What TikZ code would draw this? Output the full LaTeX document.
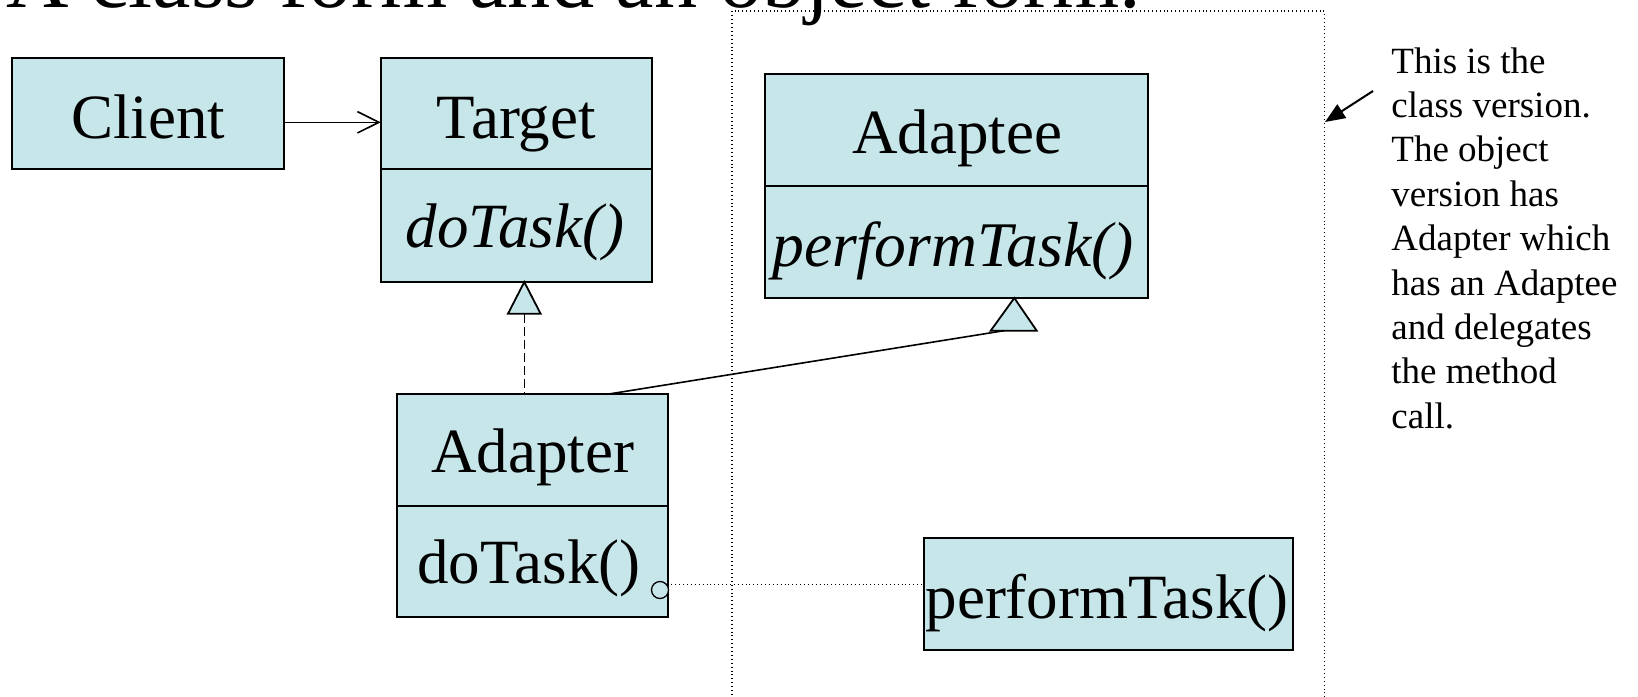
\documentclass[tikz,border=0pt]{standalone}
\usepackage{fontspec}
\setmainfont{Liberation Serif}
\usetikzlibrary{arrows.meta}
\definecolor{boxfill}{RGB}{199,230,233}
\begin{document}
\begin{tikzpicture}[x=0.5pt,y=-0.5pt,
  box/.style={rectangle, draw=black, line width=0.9pt, fill=boxfill, inner sep=0pt, outer sep=0pt},
  lbl/.style={inner sep=0pt, anchor=base, font=\fontsize{31.5}{36}\selectfont},
  lblit/.style={lbl, font=\fontsize{31.5}{36}\selectfont\itshape},
  tri/.style={draw=black, line width=0.9pt, fill=boxfill, line join=miter},
  conn/.style={draw=black, line width=0.8pt},
  dashline/.style={draw=black, line width=0.6pt, dash pattern=on 4.5pt off 2pt},
  dotline/.style={draw=black, line width=0.55pt, dash pattern=on 0.5pt off 1.45pt},
  notetext/.style={inner sep=0pt, align=left, font=\fontsize{18.5}{22.2}\selectfont}
]
\useasboundingbox (0,0) rectangle (1638,696);
\clip (0,0) rectangle (1638,696);

% dotted frame (class version)
\node[dotline, rectangle, inner sep=0pt, minimum width=296.25pt, minimum height=374.5pt] (frame) at (1028.25,385.5) {};

% title (cut off at top)
\node[inner sep=0pt, anchor=base west, font=\fontsize{43.2}{50}\selectfont] (title) at (6,8) {A class form and an object form.};

% boxes
\node[box, minimum width=136.3pt, minimum height=55.35pt] (clientBox) at (148,113.65) {};
\node[box, minimum width=135.65pt, minimum height=55.35pt] (targetTop) at (516.35,113.65) {};
\node[box, minimum width=135.65pt, minimum height=56.5pt] (targetBot) at (516.35,225.5) {};
\node[box, minimum width=191.65pt, minimum height=55.9pt] (adapteeTop) at (956.35,130.1) {};
\node[box, minimum width=191.65pt, minimum height=55.85pt] (adapteeBot) at (956.35,241.85) {};
\node[box, minimum width=135.8pt, minimum height=55.85pt] (adapterTop) at (532.5,450.15) {};
\node[box, minimum width=135.8pt, minimum height=55.65pt] (adapterBot) at (532.5,561.65) {};
\node[box, minimum width=184.35pt, minimum height=55.85pt] (taskBox) at (1108.35,594.15) {};

% labels
\node[lbl] (clientT) at (148,138) {Client};
\node[lbl] (targetT) at (516.35,138) {Target};
\node[lblit] (targetOp) at (515,247.5) {doTask()};
\node[lbl] (adapteeT) at (957,153.6) {Adaptee};
\node[lblit, font=\fontsize{31.8}{36}\selectfont\itshape] (adapteeOp) at (953,266.4) {performTask()};
\node[lbl, anchor=base west] (adapterOp) at (417,583.3) {doTask()};
\node[lbl] (adapterT) at (532.8,472) {Adapter};
\node[lbl] (taskT) at (1107,618.3) {performTask()};

% Client -> Target association
\draw[conn, -{Straight Barb[length=10.75pt,width=10.7pt]}] (clientBox.east |- 0,122.3) -- (targetTop.west |- 0,122.3);

% realization Adapter -> Target
\coordinate (t1apex) at (524.3,282);
\coordinate (t1base) at (524.3,313.7);
\draw[tri] (t1apex) -- (540.6,313.7) -- (508,313.7) -- cycle;
\draw[dashline] (t1base) -- (t1base |- adapterTop.north);

% inheritance Adapter -> Adaptee
\coordinate (t2apex) at (1014.3,298);
\coordinate (t2join) at (1004,330.7);
\draw[tri] (t2apex) -- (1036.7,330.7) -- (990.7,330.7) -- cycle;
\draw[conn] (adapterTop.north -| 607,0) -- (t2join);

% note circle and dotted link
\node[circle, draw=black, line width=0.65pt, fill=boxfill, minimum size=8.5pt, inner sep=0pt] (circ) at (660,590) {};
\draw[dotline] (circ.35) -- (circ.35 -| taskBox.west);

% note
\node[notetext, anchor=base west] (note) at (1391,428.2) {This is the\\class version.\\The object\\version has\\Adapter which\\has an Adaptee\\and delegates\\the method\\call.};
\coordinate (na) at (1373,91);
\coordinate (nt) at (1325,122);
\draw[line width=1pt, -{Triangle[length=10pt,width=8pt]}] (na) -- (nt);
\end{tikzpicture}
\end{document}
